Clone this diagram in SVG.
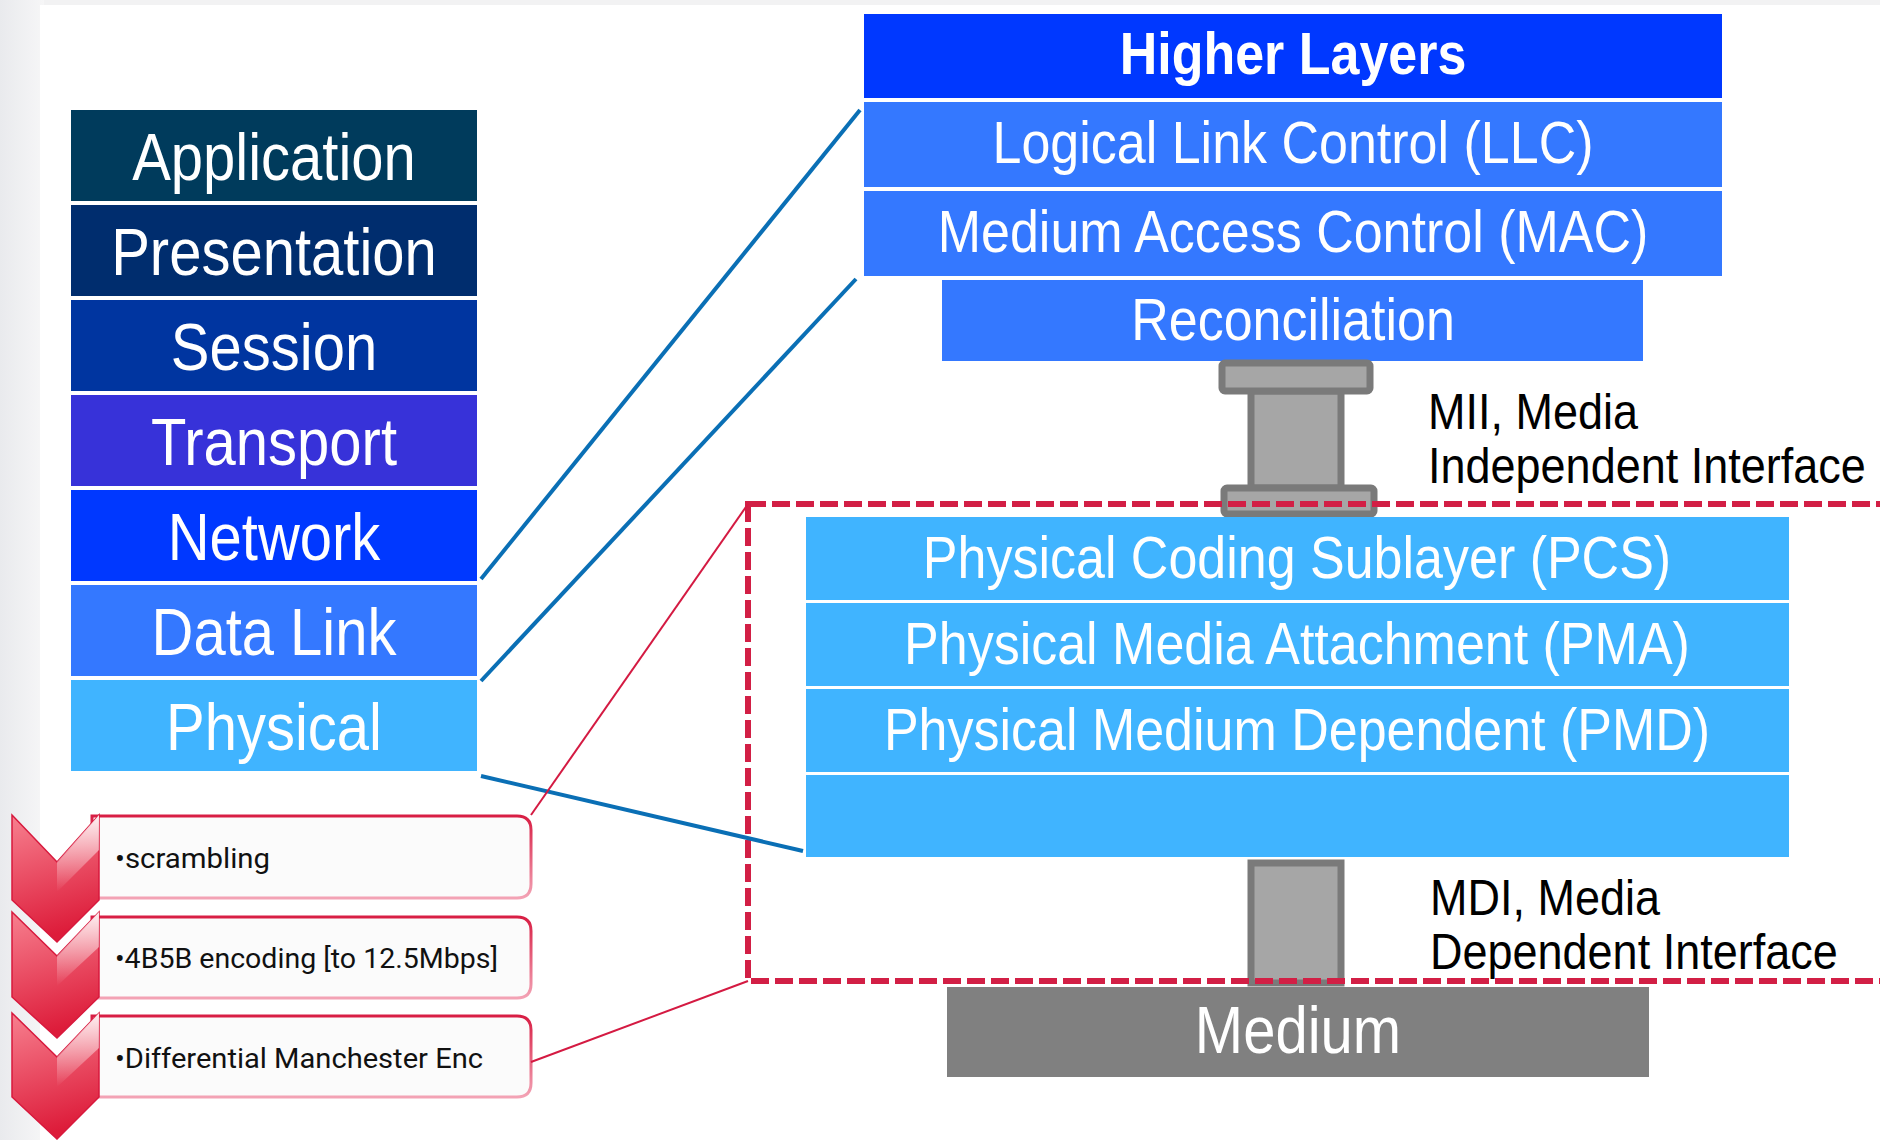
<svg xmlns="http://www.w3.org/2000/svg" width="1880" height="1140" viewBox="0 0 1880 1140">
<defs>
<linearGradient id="bgl" x1="0" y1="0" x2="1" y2="0">
<stop offset="0" stop-color="#e9eaed"/><stop offset="1" stop-color="#f6f6f7"/>
</linearGradient>
<linearGradient id="chev" x1="0" y1="0" x2="0.2" y2="1">
<stop offset="0" stop-color="#f7808f"/><stop offset="1" stop-color="#dd1c3a"/>
</linearGradient>
<linearGradient id="hl" x1="0" y1="0" x2="0" y2="1">
<stop offset="0" stop-color="#fff" stop-opacity="0.9"/><stop offset="1" stop-color="#fff" stop-opacity="0"/>
</linearGradient>
<linearGradient id="bstroke" x1="0" y1="0" x2="0" y2="1">
<stop offset="0" stop-color="#d81e44"/><stop offset="1" stop-color="#f3a3b5"/>
</linearGradient>
<style>
.lay{font-family:"Liberation Sans",Arial,sans-serif;fill:#fff;text-anchor:middle}
.osi{font-size:58px}
.r{font-size:52px}
.lbl{font-family:"Liberation Sans",Arial,sans-serif;fill:#000;font-size:45px}
.itm{font-family:Roboto,"Liberation Sans",sans-serif;fill:#111;font-size:27px}
.plug{fill:#a6a6a6;stroke:#7a7a7a;stroke-width:7}
.box{fill:#fbfbfb;stroke:url(#bstroke);stroke-width:3}
.ch{fill:url(#chev);stroke:#d8193d;stroke-width:1.5}
.hl{fill:url(#hl)}
.blue{stroke:#0a6fb5;stroke-width:4;fill:none}
.red{stroke:#d41a42;stroke-width:2;fill:none}
</style>
</defs>
<rect width="1880" height="1140" fill="#f2f2f3"/>
<rect x="0" y="0" width="44" height="1140" fill="url(#bgl)"/>
<rect x="40" y="5" width="1840" height="1135" fill="#fff"/>

<g id="osi">
<g id="application"><rect x="71" y="110" width="406" height="91" fill="#003b5c"/><text class="lay osi" transform="translate(274 180) scale(1 1.15)">Application</text></g>
<g id="presentation"><rect x="71" y="205" width="406" height="91" fill="#002d6e"/><text class="lay osi" transform="translate(274 275) scale(1 1.15)">Presentation</text></g>
<g id="session"><rect x="71" y="300" width="406" height="91" fill="#0035a0"/><text class="lay osi" transform="translate(274 370) scale(1 1.15)">Session</text></g>
<g id="transport"><rect x="71" y="395" width="406" height="91" fill="#3732d9"/><text class="lay osi" transform="translate(274 465) scale(1 1.15)">Transport</text></g>
<g id="network"><rect x="71" y="490" width="406" height="91" fill="#0038ff"/><text class="lay osi" transform="translate(274 560) scale(1 1.15)">Network</text></g>
<g id="datalink"><rect x="71" y="585" width="406" height="91" fill="#3478ff"/><text class="lay osi" transform="translate(274 655) scale(1 1.15)">Data Link</text></g>
<g id="physical"><rect x="71" y="680" width="406" height="91" fill="#40b4ff"/><text class="lay osi" transform="translate(274 750) scale(1 1.15)">Physical</text></g>
</g>

<g id="higher"><rect x="864" y="14" width="858" height="84" fill="#0038ff"/><text class="lay r" font-weight="bold" transform="translate(1293 74) scale(1 1.15)">Higher Layers</text></g>
<g id="llc"><rect x="864" y="102" width="858" height="85" fill="#3478ff"/><text class="lay r" transform="translate(1293 163) scale(1 1.15)">Logical Link Control (LLC)</text></g>
<g id="mac"><rect x="864" y="191" width="858" height="85" fill="#3478ff"/><text class="lay r" transform="translate(1293 252) scale(1 1.15)">Medium Access Control (MAC)</text></g>
<g id="reconciliation"><rect x="942" y="280" width="701" height="81" fill="#3478ff"/><text class="lay r" transform="translate(1293 340) scale(1 1.15)">Reconciliation</text></g>

<g id="mii">
<rect class="plug" x="1251" y="391" width="90" height="97"/>
<rect class="plug" x="1222" y="363" width="148" height="28" rx="3"/>
<rect class="plug" x="1224" y="488" width="150" height="26" rx="3"/>
<text class="lbl" transform="translate(1428 429) scale(1 1.12)">MII, Media</text>
<text class="lbl" transform="translate(1428 483) scale(1 1.12)">Independent Interface</text>
</g>

<g id="pcs"><rect x="806" y="517" width="983" height="83" fill="#40b4ff"/><text class="lay r" transform="translate(1297 578) scale(1 1.15)">Physical Coding Sublayer (PCS)</text></g>
<g id="pma"><rect x="806" y="603" width="983" height="83" fill="#40b4ff"/><text class="lay r" transform="translate(1297 664) scale(1 1.15)">Physical Media Attachment (PMA)</text></g>
<g id="pmd"><rect x="806" y="689" width="983" height="83" fill="#40b4ff"/><text class="lay r" transform="translate(1297 750) scale(1 1.15)">Physical Medium Dependent (PMD)</text></g>
<g id="blank"><rect x="806" y="775" width="983" height="82" fill="#40b4ff"/></g>

<g id="mdi">
<rect class="plug" x="1251" y="863" width="90" height="120"/>
<text class="lbl" transform="translate(1430 915) scale(1 1.12)">MDI, Media</text>
<text class="lbl" transform="translate(1430 969) scale(1 1.12)">Dependent Interface</text>
</g>

<g id="medium"><rect x="947" y="987" width="702" height="90" fill="#808080"/><text class="lay osi" transform="translate(1298 1053) scale(1 1.15)">Medium</text></g>

<g id="phy-box"><rect x="748" y="504" width="1200" height="477" fill="none" stroke="#d21f45" stroke-width="6" stroke-dasharray="18 6"/></g>

<g id="steps">
<g id="step1"><path class="box" d="M92 816 H517 Q531 816 531 830 V884 Q531 898 517 898 H92 Z"/></g>
<g id="step2"><path class="box" d="M92 917 H517 Q531 917 531 931 V984 Q531 998 517 998 H92 Z"/></g>
<g id="step3"><path class="box" d="M92 1016 H517 Q531 1016 531 1030 V1083 Q531 1097 517 1097 H92 Z"/></g>
<path class="ch" d="M12 815 L57 862 L99 815 V900 L57 942 L12 900 Z"/>
<path class="hl" d="M57 862 L99 815 V850 L57 892 Z"/>
<path class="ch" d="M12 912 L57 956 L99 912 V997 L57 1038 L12 997 Z"/>
<path class="hl" d="M57 956 L99 912 V947 L57 986 Z"/>
<path class="ch" d="M12 1013 L57 1057 L99 1013 V1097 L57 1139 L12 1097 Z"/>
<path class="hl" d="M57 1057 L99 1013 V1048 L57 1087 Z"/>
<text class="itm" x="115" y="868" textLength="155" lengthAdjust="spacingAndGlyphs">•scrambling</text>
<text class="itm" x="115" y="968" textLength="383" lengthAdjust="spacingAndGlyphs">•4B5B encoding [to 12.5Mbps]</text>
<text class="itm" x="115" y="1068" textLength="368" lengthAdjust="spacingAndGlyphs">•Differential Manchester Enc</text>
</g>

<g id="connectors">
<line class="blue" x1="481" y1="579" x2="860" y2="110"/>
<line class="blue" x1="481" y1="681" x2="856" y2="279"/>
<line class="blue" x1="481" y1="776" x2="803" y2="851"/>
<line class="red" x1="531" y1="815" x2="748" y2="504"/>
<line class="red" x1="531" y1="1062" x2="748" y2="981"/>
</g>
</svg>
